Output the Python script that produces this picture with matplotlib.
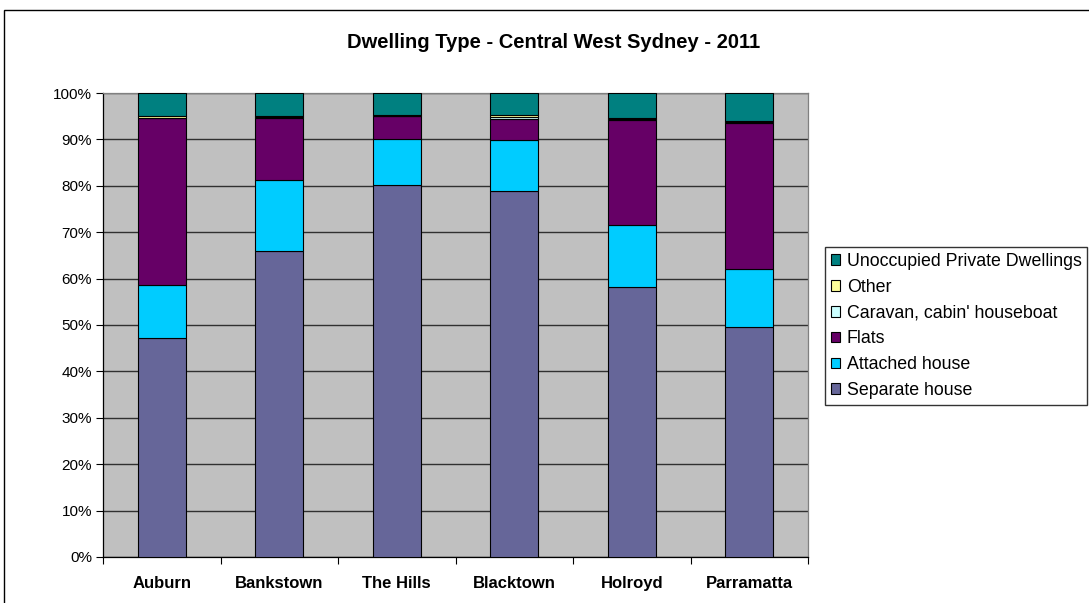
import matplotlib
matplotlib.use("Agg")
import matplotlib.pyplot as plt
from matplotlib.patches import Rectangle
import numpy as np

plt.rcParams['font.family'] = ['Liberation Sans', 'DejaVu Sans']

councils = ["Auburn", "Bankstown", "The Hills", "Blacktown", "Holroyd", "Parramatta"]

separate_house = [47.3, 65.9, 80.1, 78.9, 58.2, 49.6]
attached_house = [11.4, 15.4, 9.9, 10.9, 13.3, 12.5]
flats = [35.9, 13.4, 5.0, 4.7, 22.7, 31.5]
caravan = [0.1, 0.1, 0.1, 0.4, 0.1, 0.1]
other = [0.3, 0.3, 0.2, 0.3, 0.3, 0.3]
unoccupied = [5.0, 4.9, 4.7, 4.8, 5.4, 6.0]

series = [
    ("Separate house", separate_house, "#666699"),
    ("Attached house", attached_house, "#00CCFF"),
    ("Flats", flats, "#660066"),
    ("Caravan, cabin' houseboat", caravan, "#CCFFFF"),
    ("Other", other, "#FFFF99"),
    ("Unoccupied Private Dwellings", unoccupied, "#008080"),
]

fig = plt.figure(figsize=(10.89, 6.03), dpi=100)
fig.patch.set_facecolor("white")

# outer chart border
fig.add_artist(Rectangle((4 / 1089, -0.01), 1.02, (603 - 10) / 603 + 0.01,
                         transform=fig.transFigure, fill=False,
                         edgecolor="black", linewidth=1.0))

ax = fig.add_axes([103 / 1089, (603 - 557) / 603, 705 / 1089, 464 / 603])
ax.set_facecolor("#C0C0C0")

x = np.arange(len(councils))
bottom = np.zeros(len(councils))
handles = []
for name, vals, color in series:
    vals = np.array(vals, dtype=float)
    b = ax.bar(x, vals, bottom=bottom, width=0.41, color=color,
               edgecolor="black", linewidth=0.8, label=name, zorder=3)
    handles.append(b)
    bottom += vals

ax.set_xlim(-0.5, len(councils) - 0.5)
ax.set_ylim(0, 100)
ax.set_yticks(np.arange(0, 101, 10))
ax.set_yticklabels([f"{v}%" for v in range(0, 101, 10)], fontsize=11)
ax.yaxis.grid(True, color="#303030", linewidth=1.0, zorder=1)
ax.set_axisbelow(True)

ax.set_xticks(x)
ax.set_xticklabels(councils, fontsize=12, fontweight="bold")
ax.tick_params(axis="x", length=0, pad=14)
ax.set_xticks(np.arange(-0.5, len(councils), 1.0), minor=True)
ax.tick_params(axis="x", which="minor", length=5, width=0.8, color="black")
ax.tick_params(axis="y", length=5, width=0.8, pad=3)

for s in ["left", "bottom"]:
    ax.spines[s].set_color("black")
    ax.spines[s].set_linewidth(0.9)
for s in ["top", "right"]:
    ax.spines[s].set_color("#808080")
    ax.spines[s].set_linewidth(0.9)

fig.text(554 / 1089, 1 - 42 / 603, "Dwelling Type - Central West Sydney - 2011",
         ha="center", va="center", fontsize=14.5, fontweight="bold")

leg = fig.legend(handles[::-1], [s[0] for s in series][::-1],
                 loc="upper left", bbox_to_anchor=(825 / 1089, 1 - 247 / 603),
                 fontsize=12.8, frameon=True, fancybox=False, edgecolor="black",
                 handlelength=0.55, handleheight=0.55, handletextpad=0.35,
                 labelspacing=0.5, borderpad=0.32, borderaxespad=0)
leg.get_frame().set_linewidth(1.0)

fig.savefig("out.png", dpi=100)
